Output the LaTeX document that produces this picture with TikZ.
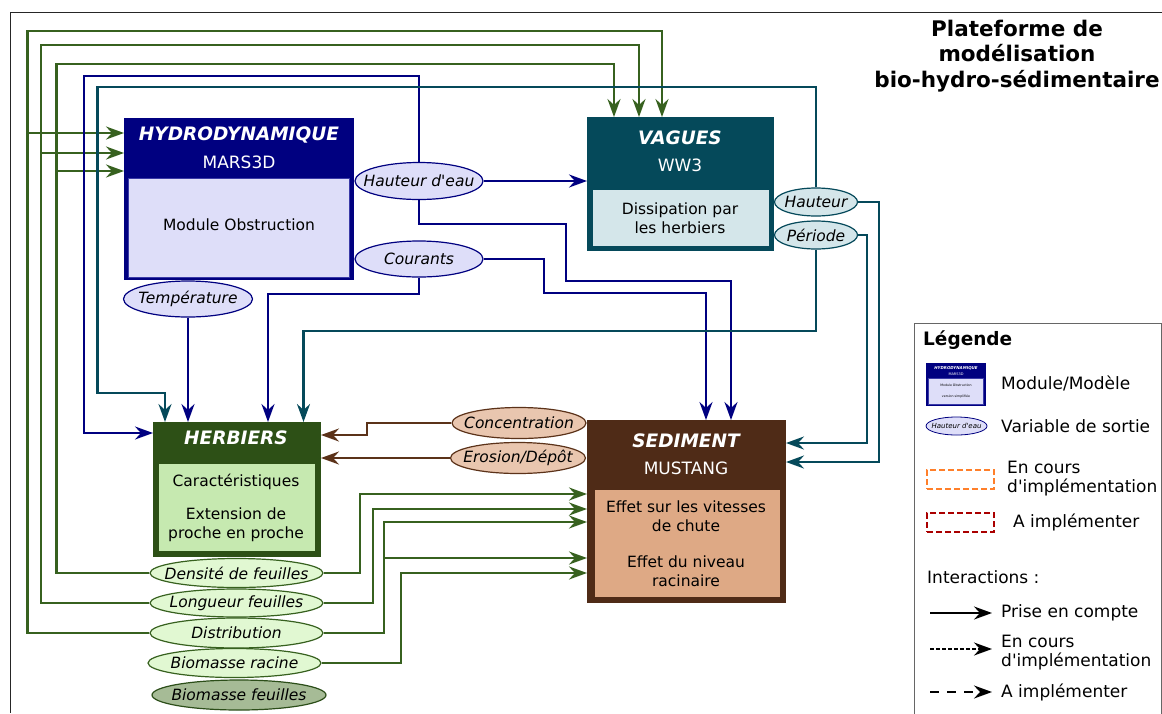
\documentclass[tikz,border=0pt]{standalone}
\usepackage{fontspec}
\setmainfont{DejaVu Sans}
\newfontfamily\dvs{DejaVu Sans}
\usetikzlibrary{arrows.meta,shapes.geometric}
\definecolor{cnavy}{HTML}{000080}
\definecolor{cnavyl}{HTML}{3a3aa8}
\definecolor{clav}{HTML}{DEDEF9}
\definecolor{cteal}{HTML}{05495A}
\definecolor{cteall}{HTML}{D4E6EA}
\definecolor{cdgreen}{HTML}{2D5016}
\definecolor{clgreen}{HTML}{C6E9B0}
\definecolor{cgline}{HTML}{37611F}
\definecolor{cellg}{HTML}{E1F8D2}
\definecolor{cdbrown}{HTML}{4F2B17}
\definecolor{cpeach}{HTML}{DEA985}
\definecolor{cellb}{HTML}{E9C6AF}
\definecolor{cbline}{HTML}{5B3219}
\definecolor{cbiof}{HTML}{A6BB96}
\definecolor{corange}{HTML}{FF7F2A}
\definecolor{cred}{HTML}{AA0000}
\newcommand\myvarfont{\itshape\fontsize{15.5}{18}\selectfont}
\newcommand\mybodyfont{\fontsize{15.5}{19}\selectfont}
\newcommand\myhdrfont{\bfseries\itshape\fontsize{18.5}{21}\selectfont}
\newcommand\mysubfont{\fontsize{17}{20}\selectfont}
\newcommand\mylegfont{\fontsize{17}{19}\selectfont}
\newcommand\zw[1]{\makebox[0pt]{#1}}
\begin{document}
\begin{tikzpicture}[x=1pt,y=-1pt,
  tip/.style={-{Stealth[length=18pt,width=13pt,inset=6pt]}},
  wire/.style={line width=2.5pt},
  gw/.style={wire,draw=cgline},
  bw/.style={wire,draw=cnavy},
  tw/.style={wire,draw=cteal},
  rw/.style={wire,draw=cbline},
  outerbox/.style={draw=#1,fill=#1,line width=4pt,inner sep=0pt},
  panel/.style={draw=#1,line width=0.8pt,inner sep=0pt},
  var/.style={ellipse,inner sep=0pt,line width=1.2pt,font=\myvarfont},
  hvar/.style={var,draw=cnavy,fill=clav,minimum width=128,minimum height=36},
  wvar/.style={var,draw=cteal,fill=cteall,minimum width=83,minimum height=28},
  svar/.style={var,draw=cbline,fill=cellb,minimum width=134,minimum height=31},
  gvar/.style={var,draw=cgline,fill=cellg,minimum width=173,minimum height=29},
  hdr/.style={text=white,font=\myhdrfont,inner sep=0pt},
  sub/.style={text=white,font=\mysubfont,inner sep=0pt},
  body/.style={font=\mybodyfont,align=center,inner sep=0pt},
  leg/.style={font=\mylegfont,anchor=west,align=left,inner sep=0pt}
]
\dvs
\useasboundingbox (0,0) rectangle (1162,713);
\fill[white] (0,0) rectangle (1162,713);
% outer frame
\draw[line width=0.8pt,black!85] (1162,12) -- (10,12) -- (10,713);

% title
\node[font=\bfseries\fontsize{21.5}{25.5}\selectfont,align=center,inner sep=0pt] (title) at (1017,56) {Plateforme de\\mod\'elisation\\bio-hydro-s\'edimentaire};

% ---------- modules ----------
\node[outerbox=cnavy,minimum width=226,minimum height=158] (hydro) at (239,199) {};
\node[panel=cnavyl,fill=clav,minimum width=221,minimum height=99] (hydroP) at (238.5,227.5) {};
\node[hdr] (hydroH) at (239,135) {HYDRODYNAMIQUE};
\node[sub] (hydroS) at (239,162) {MARS3D};
\node[body] (hydroB) at (239,225) {Module Obstruction};

\node[outerbox=cteal,minimum width=183,minimum height=130] (vag) at (680.5,184) {};
\node[panel=cteal,fill=cteall,minimum width=177,minimum height=57] (vagP) at (680.5,217.5) {};
\node[hdr] (vagH) at (680,138) {VAGUES};
\node[sub] (vagS) at (680,165) {WW3};
\node[body] (vagB) at (680,218) {Dissipation par\\les herbiers};

\node[outerbox=cdgreen,minimum width=164,minimum height=131] (herb) at (237,489.5) {};
\node[panel=cdgreen,fill=clgreen,minimum width=157,minimum height=88] (herbP) at (236.5,507) {};
\node[hdr] (herbH) at (236,438) {HERBIERS};
\node[body] (herbB1) at (236,482) {Caract\'eristiques};
\node[body] (herbB2) at (236,524.5) {Extension de\\proche en proche};

\node[outerbox=cdbrown,minimum width=195,minimum height=179] (sed) at (686.5,511.5) {};
\node[panel=cdbrown,fill=cpeach,minimum width=186,minimum height=108] (sedP) at (687,543) {};
\node[hdr] (sedH) at (686,441) {SEDIMENT};
\node[sub] (sedS) at (686,468) {MUSTANG};
\node[body] (sedB1) at (686,516.5) {Effet sur les vitesses\\de chute};
\node[body] (sedB2) at (686,571.5) {Effet du niveau\\racinaire};

% ---------- variables ----------
\node[hvar,minimum height=37] (hde) at (419,181) {\zw{Hauteur d'eau}};
\node[hvar] (cour) at (419,259) {\zw{Courants}};
\node[hvar,minimum width=129] (temp) at (188,299) {\zw{Temp\'erature}};
\node[wvar] (haut) at (816,202) {\zw{Hauteur}};
\node[wvar] (per) at (816,235) {\zw{P\'eriode}};
\node[svar] (conc) at (519,423) {\zw{Concentration}};
\node[svar,minimum width=135] (eros) at (518,458) {\zw{Erosion/D\'ep\^ot}};
\node[gvar] (dens) at (236.5,573) {\zw{Densit\'e de feuilles}};
\node[gvar,minimum height=28] (long) at (236.5,603) {\zw{Longueur feuilles}};
\node[gvar,minimum height=30] (dist) at (236.5,633) {\zw{Distribution}};
\node[gvar] (bior) at (234.5,663) {\zw{Biomasse racine}};
\node[var,draw=cgline!80!black,fill=cbiof,minimum width=174,minimum height=30] (biof) at (239,695) {\zw{Biomasse feuilles}};

% ---------- connectors ----------
% green feedback to hydro / vagues
\draw[gw,tip] (dist.west) -| (27.6,31) -| (vag.north -| 662,0);
\draw[gw,tip] (long.west) -| (41,45) -| (vag.north -| 639,0);
\draw[gw,tip] (dens.west) -| (56.7,64) -| (vag.north -| 614,0);
\coordinate (jA) at (27.6,133);
\coordinate (jB) at (41,153);
\coordinate (jC) at (56.7,171);
\draw[gw,tip] (jA) -- (hydro.west |- jA);
\draw[gw,tip] (jB) -- (hydro.west |- jB);
\draw[gw,tip] (jC) -- (hydro.west |- jC);
% green to sediment
\draw[gw,tip] (dens.east) -| (360,494) -- (sed.west |- 0,494);
\draw[gw,tip] (long.east) -| (373,509) -- (sed.west |- 0,509);
\draw[gw,tip] (dist.east) -| (384,522) -- (sed.west |- 0,522);
\coordinate (jD) at (384,558);
\draw[gw,tip] (jD) -- (sed.west |- jD);
\draw[gw,tip] (bior.east) -| (401,573) -- (sed.west |- 0,573);

% blue (hydro outputs)
\draw[bw,tip] (hde.north) |- (84,76) -- (84,433) -- (herb.west |- 0,433);
\draw[bw,tip] (hde.east) -- (vag.west |- hde.east);
\draw[bw,tip] (hde.south) |- (566,224) -- (566,281) -| (sed.north -| 731,0);
\draw[bw,tip] (cour.east) -| (544,293) -| (sed.north -| 706,0);
\draw[bw,tip] (cour.south) |- (268,294) -- (herb.north -| 268,0);
\draw[bw,tip] (temp.south) -- (herb.north -| temp.south);

% teal (waves outputs)
\draw[tw,tip] (haut.north) |- (97.6,87) -- (97.6,393) -| (herb.north -| 165,0);
\draw[tw,tip] (per.south) |- (303.5,331) -- (herb.north -| 303.5,0);
\draw[tw,tip] (haut.east) -| (879,462) -- (sed.east |- 0,462);
\draw[tw,tip] (per.east) -| (867,443) -- (sed.east |- 0,443);

% brown (sediment outputs)
\draw[rw,tip] (conc.west) -| (367,435) -- (herb.east |- 0,435);
\draw[rw,tip] (eros.west) -- (herb.east |- eros.west);

% ---------- legend ----------
\draw[line width=1pt,black!60] (914,720) -- (914,323) -- (1161,323) -- (1161,720);
\node[font=\bfseries\fontsize{18.5}{21}\selectfont,anchor=west,inner sep=0pt] (legT) at (923,340) {L\'egende};
\node[draw=cnavy,fill=cnavy,line width=1.2pt,minimum width=59,minimum height=42,inner sep=0pt] (legM) at (956,384.5) {};
\node[draw=cnavyl,fill=clav,line width=0.4pt,minimum width=55,minimum height=26,inner sep=0pt] (legMP) at (956,391) {};
\node[text=white,font=\bfseries\itshape\fontsize{4}{5}\selectfont,inner sep=0pt] (legM1) at (956,368) {HYDRODYNAMIQUE};
\node[text=white,font=\fontsize{3.5}{4}\selectfont,inner sep=0pt] (legM2) at (956,374) {MARS3D};
\node[font=\fontsize{3.2}{4}\selectfont,inner sep=0pt] (legM3) at (956,385) {Module Obstruction};
\node[font=\fontsize{3.2}{4}\selectfont,inner sep=0pt] (legM4) at (956,397) {version simplifi\'ee};
\node[leg] (legMt) at (1001,383) {Module/Mod\`ele};
\node[ellipse,draw=cnavy,fill=clav,line width=0.8pt,minimum width=61,minimum height=18,inner sep=0pt,font=\itshape\fontsize{7}{8}\selectfont] (legE) at (956.5,426) {\zw{Hauteur d'eau}};
\node[leg] (legEt) at (1001,426) {Variable de sortie};
\node[draw=corange,line width=2.4pt,dash pattern=on 6pt off 3pt,minimum width=67,minimum height=19,inner sep=0pt] (legO) at (960.5,479.5) {};
\node[leg,font=\fontsize{17}{19.5}\selectfont] (legOt) at (1007,478.5) {En cours\\d'impl\'ementation};
\node[draw=cred,line width=2.4pt,dash pattern=on 6pt off 3pt,minimum width=67,minimum height=19,inner sep=0pt] (legR) at (960.5,522.5) {};
\node[leg] (legRt) at (1013,522) {A impl\'ementer};
\node[leg] (legI) at (927,577) {Interactions :};
\coordinate (la1) at (930,613);
\coordinate (lb1) at (930,649);
\coordinate (lc1) at (930,692);
\node[leg] (legA) at (1001,613) {Prise en compte};
\node[leg,font=\fontsize{17}{19.5}\selectfont] (legB) at (1001,652.5) {En cours\\d'impl\'ementation};
\node[leg] (legC) at (1001,692) {A impl\'ementer};
\draw[line width=2.4pt,tip] (la1) -- (legA.west -| 992,0);
\draw[line width=2.4pt,dash pattern=on 4pt off 2pt,tip] (lb1) -- (992,649);
\draw[line width=2.4pt,dash pattern=on 9pt off 8pt,tip] (lc1) -- (legC.west -| 992,0);
\end{tikzpicture}
\end{document}
